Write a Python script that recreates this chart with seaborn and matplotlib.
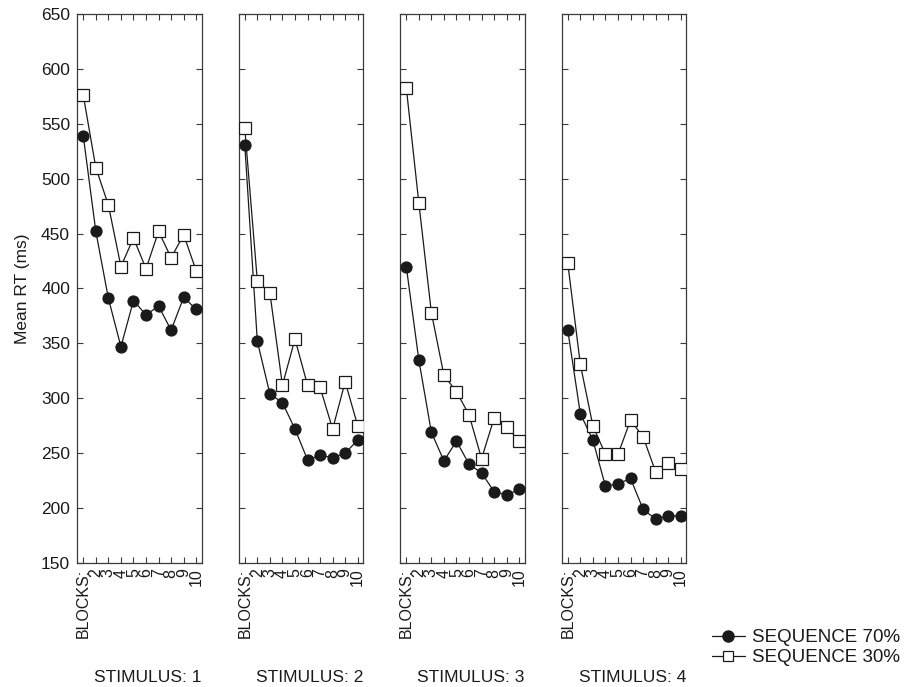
import matplotlib
matplotlib.use("Agg")
import matplotlib.pyplot as plt
from matplotlib.lines import Line2D
import seaborn as sns
import pandas as pd

blocks = [1, 2, 3, 4, 5, 6, 7, 8, 9, 10]
block_labels = ["BLOCKS:", "2", "3", "4", "5", "6", "7", "8", "9", "10"]
stimuli = [1, 2, 3, 4]
y_ticks = [150, 200, 250, 300, 350, 400, 450, 500, 550, 600, 650]

seq70_stim1 = [539, 452, 391, 347, 389, 376, 384, 362, 392, 381]
seq70_stim2 = [531, 352, 304, 296, 272, 244, 248, 246, 250, 262]
seq70_stim3 = [420, 335, 269, 243, 261, 240, 232, 215, 212, 217]
seq70_stim4 = [362, 286, 262, 220, 222, 227, 199, 190, 193, 193]

seq30_stim1 = [576, 510, 476, 420, 446, 418, 452, 428, 449, 416]
seq30_stim2 = [546, 407, 396, 312, 354, 312, 310, 272, 315, 275]
seq30_stim3 = [583, 478, 378, 321, 306, 285, 245, 282, 274, 261]
seq30_stim4 = [423, 331, 275, 249, 249, 280, 265, 233, 241, 236]

seq70 = [seq70_stim1, seq70_stim2, seq70_stim3, seq70_stim4]
seq30 = [seq30_stim1, seq30_stim2, seq30_stim3, seq30_stim4]

sns.set_theme(style="ticks")
plt.rcParams['font.family'] = ['Liberation Sans', 'DejaVu Sans']
FS = 12.5
XFS = 11.5
LFS = 13.5
INK = "#1a1a1a"
SPINE = "#3a3a3a"

W, H = 905, 687
fig = plt.figure(figsize=(W / 100, H / 100), dpi=100)
fig.patch.set_facecolor("white")

lefts = [77, 238.5, 400, 561.5]
aw = 124.5
top_px, bot_px = 14, 563

for i, stim in enumerate(stimuli):
    ax = fig.add_axes([lefts[i] / W, (H - bot_px) / H, aw / W, (bot_px - top_px) / H])
    df = pd.DataFrame({"block": blocks + blocks,
                       "rt": seq70[i] + seq30[i],
                       "cond": ["SEQUENCE 70%"] * 10 + ["SEQUENCE 30%"] * 10})
    d70 = df[df.cond == "SEQUENCE 70%"]
    d30 = df[df.cond == "SEQUENCE 30%"]
    sns.lineplot(data=d70, x="block", y="rt", ax=ax, color=INK, lw=0.9,
                 marker="o", markersize=8, markerfacecolor=INK, markeredgecolor=INK,
                 markeredgewidth=0.8, zorder=3)
    sns.lineplot(data=d30, x="block", y="rt", ax=ax, color=INK, lw=0.9,
                 marker="s", markersize=8, markerfacecolor="white", markeredgecolor=INK,
                 markeredgewidth=0.9, zorder=4)
    ax.set_xlim(0.5, 10.42)
    ax.set_ylim(150, 650)
    ax.set_xticks(blocks)
    ax.set_xticklabels(block_labels, rotation=90, va="top", ha="center", fontsize=XFS, color=INK)
    ax.set_yticks(y_ticks)
    ax.tick_params(axis="both", direction="in", top=True, right=True, length=4,
                   width=0.8, color=SPINE, labelcolor=INK)
    ax.tick_params(axis="y", labelsize=FS, pad=5)
    ax.tick_params(axis="x", labelsize=XFS, pad=4)
    if i == 0:
        ax.set_ylabel("Mean RT (ms)", fontsize=FS, color=INK, labelpad=8)
    else:
        ax.set_ylabel("")
        ax.set_yticklabels([])
    ax.set_xlabel("")
    for s in ax.spines.values():
        s.set_visible(True)
        s.set_color(SPINE)
        s.set_linewidth(0.9)
    ax.set_facecolor("white")
    fig.text((lefts[i] + aw) / W, 1 - 678 / H, f"STIMULUS: {stim}", ha="right", va="center",
             fontsize=FS, color=INK)

handles = [
    Line2D([0], [0], color=INK, lw=0.9, marker="o", markersize=8,
           markerfacecolor=INK, markeredgecolor=INK),
    Line2D([0], [0], color=INK, lw=0.9, marker="s", markersize=7.5,
           markerfacecolor="white", markeredgecolor=INK, markeredgewidth=0.9),
]
fig.legend(handles, ["SEQUENCE 70%", "SEQUENCE 30%"], loc="upper left",
           bbox_to_anchor=(712 / W, 1 - 629 / H), frameon=False, fontsize=LFS,
           handlelength=1.75, handletextpad=0.37, labelspacing=0.15, borderpad=0,
           borderaxespad=0, labelcolor=INK)

fig.savefig("out.png", dpi=100, facecolor="white")
